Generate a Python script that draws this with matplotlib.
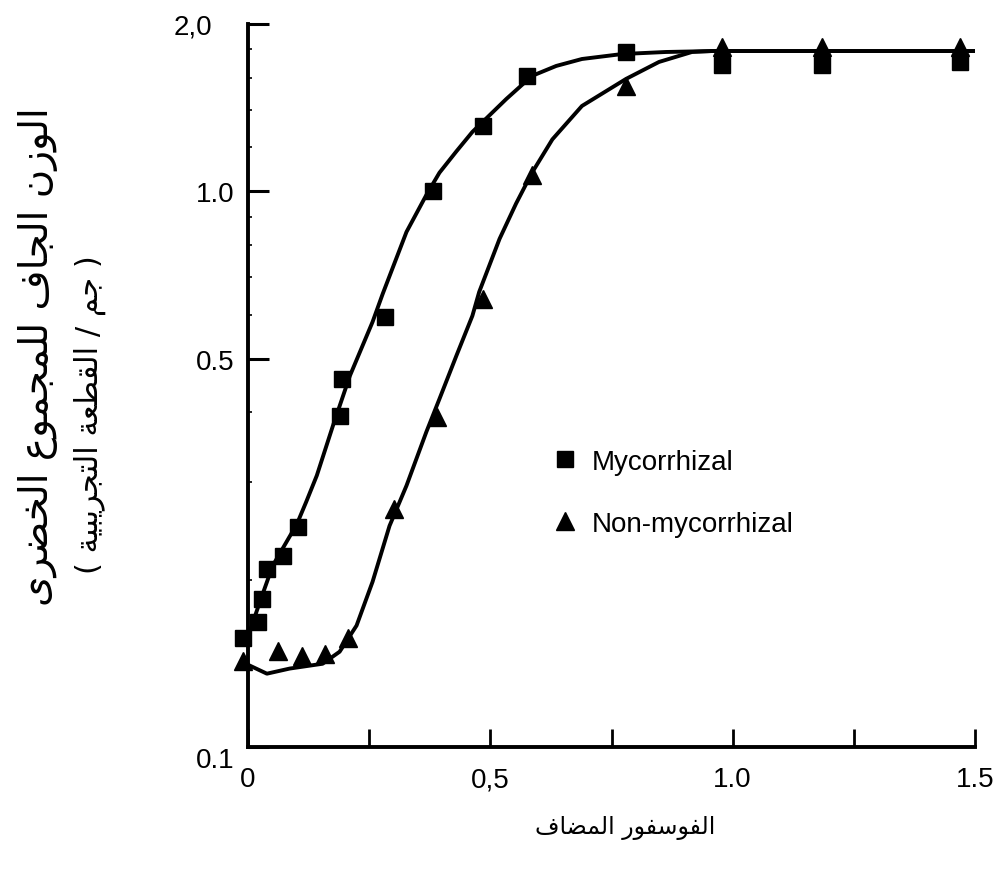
import matplotlib
matplotlib.use("Agg")
import matplotlib.pyplot as plt
from matplotlib.ticker import FixedLocator, NullFormatter
from matplotlib.transforms import ScaledTranslation

# ── Data ──
# Measured points: mycorrhizal (squares)
myc_x = [-0.01, 0.021, 0.029, 0.039, 0.072, 0.103, 0.189, 0.193, 0.282,
         0.381, 0.484, 0.576, 0.78, 0.977, 1.185, 1.469]
myc_y = [0.157, 0.168, 0.185, 0.209, 0.221, 0.249, 0.394, 0.460, 0.594,
         1.00, 1.31, 1.61, 1.78, 1.69, 1.69, 1.71]

# Measured points: non-mycorrhizal (triangles)
non_x = [-0.01, 0.062, 0.111, 0.158, 0.206, 0.302, 0.389, 0.484, 0.586,
         0.78, 0.977, 1.185, 1.469]
non_y = [0.143, 0.149, 0.146, 0.147, 0.157, 0.268, 0.393, 0.640, 1.07,
         1.55, 1.82, 1.82, 1.82]

# Fitted curves
myc_curve_x = [0.0, 0.025, 0.051, 0.101, 0.12, 0.142, 0.175, 0.210, 0.257,
               0.278, 0.327, 0.368, 0.395, 0.43, 0.463, 0.533, 0.586, 0.636,
               0.689, 0.772, 0.862, 0.957, 1.496]
myc_curve_y = [0.158, 0.183, 0.212, 0.252, 0.276, 0.308, 0.378, 0.465, 0.582,
               0.654, 0.845, 0.985, 1.08, 1.18, 1.279, 1.466, 1.613, 1.681,
               1.730, 1.766, 1.781, 1.788, 1.788]

non_curve_x = [0.0, 0.039, 0.086, 0.154, 0.189, 0.224, 0.257, 0.292, 0.327,
               0.368, 0.395, 0.430, 0.463, 0.477, 0.519, 0.553, 0.586, 0.628,
               0.689, 0.780, 0.848, 0.916, 0.957, 1.496]
non_curve_y = [0.1406, 0.1355, 0.1384, 0.1412, 0.1484, 0.1654, 0.1983, 0.250,
               0.2953, 0.369, 0.423, 0.506, 0.597, 0.659, 0.821, 0.95, 1.08,
               1.24, 1.424, 1.593, 1.709, 1.781, 1.788, 1.788]

x_ticks = [0, 0.5, 1.0, 1.5]
x_tick_labels = ["0", "0,5", "1.0", "1.5"]
x_minor = [0.25, 0.75, 1.25]
y_ticks = [0.1, 0.5, 1.0, 2.0]
y_tick_labels = ["0.1", "0.5", "1.0", "2,0"]
y_minor = [0.2, 0.3, 0.4, 0.6, 0.7, 0.8, 0.9, 1.2, 1.4, 1.6, 1.8]

ylabel_1 = "الوزن الجاف للمجموع الخضرى"
ylabel_2 = "جم / القطعة التجريبية"
xlabel = "الفوسفور المضاف"
labels = ["Mycorrhizal", "Non-mycorrhizal"]

# ── minimal Arabic shaping (matplotlib has no complex text layout) ──
FORMS = {
    "ا": (0xFE8D, 2), "ب": (0xFE8F, 4), "ة": (0xFE93, 2), "ت": (0xFE95, 4),
    "ج": (0xFE9D, 4), "خ": (0xFEA5, 4), "ر": (0xFEAD, 2), "ز": (0xFEAF, 2),
    "س": (0xFEB1, 4), "ض": (0xFEBD, 4), "ط": (0xFEC1, 4), "ع": (0xFEC9, 4),
    "ف": (0xFED1, 4), "ق": (0xFED5, 4), "ل": (0xFEDD, 4), "م": (0xFEE1, 4),
    "ن": (0xFEE5, 4), "و": (0xFEED, 2), "ى": (0xFEEF, 2), "ي": (0xFEF1, 4),
}


def shape_ar(s):
    out = []
    for i, ch in enumerate(s):
        if ch not in FORMS:
            out.append(ch)
            continue
        base, n = FORMS[ch]
        prev = s[i - 1] if i > 0 else ""
        nxt = s[i + 1] if i + 1 < len(s) else ""
        jp = prev in FORMS and FORMS[prev][1] == 4
        jn = n == 4 and nxt in FORMS
        off = 3 if (jp and jn) else 1 if jp else 2 if jn else 0
        out.append(chr(base + off))
    return "".join(out)[::-1]


plt.rcParams["font.family"] = ["Liberation Sans", "DejaVu Sans"]

W, H = 998, 878
fig = plt.figure(figsize=(W / 100, H / 100), dpi=100)
ax = fig.add_axes([248 / W, 1 - 748 / H, (975 - 248) / W, (748 - 25) / H])

ax.plot(myc_curve_x, myc_curve_y, color="black", lw=2.8, zorder=2)
ax.plot(non_curve_x, non_curve_y, color="black", lw=2.8, zorder=2)
ax.plot(myc_x, myc_y, ls="none", marker="s", ms=12, color="black",
        clip_on=False, zorder=3, label=labels[0])
ax.plot(non_x, non_y, ls="none", marker="^", ms=13, color="black",
        clip_on=False, zorder=3, label=labels[1])

ax.set_yscale("log")
ax.set_xlim(0, 1.5)
ax.set_ylim(0.1, 2.0)

for s in ["top", "right"]:
    ax.spines[s].set_visible(False)
for s in ["left", "bottom"]:
    ax.spines[s].set_linewidth(2.8)

ax.xaxis.set_major_locator(FixedLocator(x_ticks))
ax.set_xticklabels(x_tick_labels)
ax.xaxis.set_minor_locator(FixedLocator(x_minor))
ax.yaxis.set_major_locator(FixedLocator(y_ticks))
ax.set_yticklabels(y_tick_labels)
ax.yaxis.set_minor_locator(FixedLocator(y_minor))
ax.yaxis.set_minor_formatter(NullFormatter())

ax.tick_params(axis="x", which="both", direction="in", length=13, width=2,
               labelsize=20, pad=14)
ax.tick_params(axis="y", which="major", direction="in", length=15, width=2.2,
               labelsize=20, pad=10)
ax.tick_params(axis="y", which="minor", direction="in", length=3, width=1.2)

# the scanned original has "2,0" set further left and "0.1" a little lower
ylbls = ax.get_yticklabels()
ylbls[-1].set_transform(ylbls[-1].get_transform()
                        + ScaledTranslation(-0.22, 0, fig.dpi_scale_trans))
ylbls[0].set_transform(ylbls[0].get_transform()
                       + ScaledTranslation(0, -0.10, fig.dpi_scale_trans))

ax.legend(loc="upper left", bbox_to_anchor=(551 / W, 1 - 450 / H),
          bbox_transform=fig.transFigure, frameon=False, fontsize=20,
          handlelength=1.0, handletextpad=0.45, labelspacing=1.3,
          borderpad=0, borderaxespad=0)

fig.text(38 / W, 1 - 357 / H, shape_ar(ylabel_1), rotation=90,
         ha="center", va="center", fontsize=28, family=["DejaVu Sans"])
fig.text(90 / W, 1 - 415 / H, "( " + shape_ar(ylabel_2) + " )", rotation=90,
         ha="center", va="center", fontsize=22, family=["DejaVu Sans"])
fig.text(625 / W, 1 - 828 / H, shape_ar(xlabel), ha="center", va="center",
         fontsize=17, family=["DejaVu Sans"])

fig.savefig("out.png", dpi=100, facecolor="white")
